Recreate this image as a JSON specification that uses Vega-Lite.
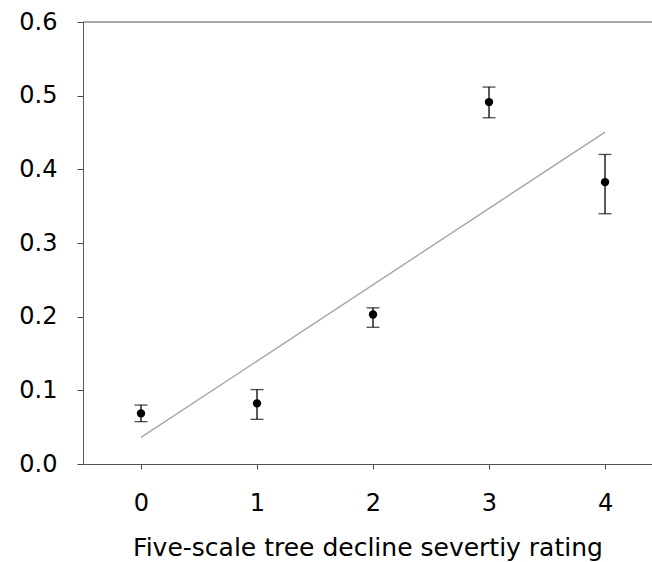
{
  "$schema": "https://vega.github.io/schema/vega-lite/v6.json",
  "autosize": {"type": "none"},
  "padding": {"left": 83, "top": 22, "right": 0, "bottom": 98},
  "width": 569,
  "height": 442,
  "background": "white",
  "config": {
    "view": {"stroke": null},
    "axis": {
      "grid": false,
      "domainColor": "#555555",
      "tickColor": "#444444",
      "labelColor": "#000000",
      "labelFont": "DejaVu Sans",
      "labelFontSize": 24,
      "titleFont": "DejaVu Sans",
      "titleColor": "#000000",
      "titleFontWeight": "normal"
    }
  },
  "datasets": {
    "pts": [
      {"rating": 0, "mean": 0.0687, "lo": 0.0575, "hi": 0.080},
      {"rating": 1, "mean": 0.0823, "lo": 0.0606, "hi": 0.101},
      {"rating": 2, "mean": 0.2029, "lo": 0.1856, "hi": 0.212},
      {"rating": 3, "mean": 0.4913, "lo": 0.470, "hi": 0.5117},
      {"rating": 4, "mean": 0.3826, "lo": 0.3397, "hi": 0.4202}
    ],
    "fit": [
      {"rating": 0, "pred": 0.0361},
      {"rating": 4, "pred": 0.4506}
    ],
    "top": [{"v": 0.6}]
  },
  "layer": [
    {
      "data": {"name": "top"},
      "mark": {"type": "rule", "color": "#555555", "strokeWidth": 1},
      "encoding": {
        "y": {"field": "v", "type": "quantitative", "scale": {"domain": [0, 0.6]}}
      }
    },
    {
      "data": {"name": "fit"},
      "mark": {"type": "line", "color": "#a6a6a6", "strokeWidth": 1.4},
      "encoding": {
        "x": {"field": "rating", "type": "quantitative"},
        "y": {"field": "pred", "type": "quantitative"}
      }
    },
    {
      "data": {"name": "pts"},
      "mark": {"type": "rule", "color": "#000000", "strokeWidth": 1.3},
      "encoding": {
        "x": {"field": "rating", "type": "quantitative"},
        "y": {"field": "lo", "type": "quantitative"},
        "y2": {"field": "hi"}
      }
    },
    {
      "data": {"name": "pts"},
      "mark": {"type": "tick", "orient": "horizontal", "size": 13, "thickness": 1.3, "color": "#000000"},
      "encoding": {
        "x": {"field": "rating", "type": "quantitative"},
        "y": {"field": "lo", "type": "quantitative"}
      }
    },
    {
      "data": {"name": "pts"},
      "mark": {"type": "tick", "orient": "horizontal", "size": 13, "thickness": 1.3, "color": "#000000"},
      "encoding": {
        "x": {"field": "rating", "type": "quantitative"},
        "y": {"field": "hi", "type": "quantitative"}
      }
    },
    {
      "data": {"name": "pts"},
      "mark": {"type": "circle", "color": "#000000", "opacity": 1, "size": 70},
      "encoding": {
        "x": {
          "field": "rating",
          "type": "quantitative",
          "scale": {"domain": [-0.5, 4.405], "nice": false, "zero": false},
          "axis": {
            "values": [0, 1, 2, 3, 4],
            "format": "d",
            "tickSize": 5,
            "labelPadding": 22,
            "title": "Five-scale tree decline severtiy rating",
            "titleFontSize": 25,
            "titlePadding": 20
          }
        },
        "y": {
          "field": "mean",
          "type": "quantitative",
          "scale": {"domain": [0, 0.6], "nice": false},
          "axis": {
            "values": [0, 0.1, 0.2, 0.3, 0.4, 0.5, 0.6],
            "format": ".1f",
            "tickSize": 6,
            "labelPadding": 20,
            "title": null
          }
        }
      }
    }
  ]
}
